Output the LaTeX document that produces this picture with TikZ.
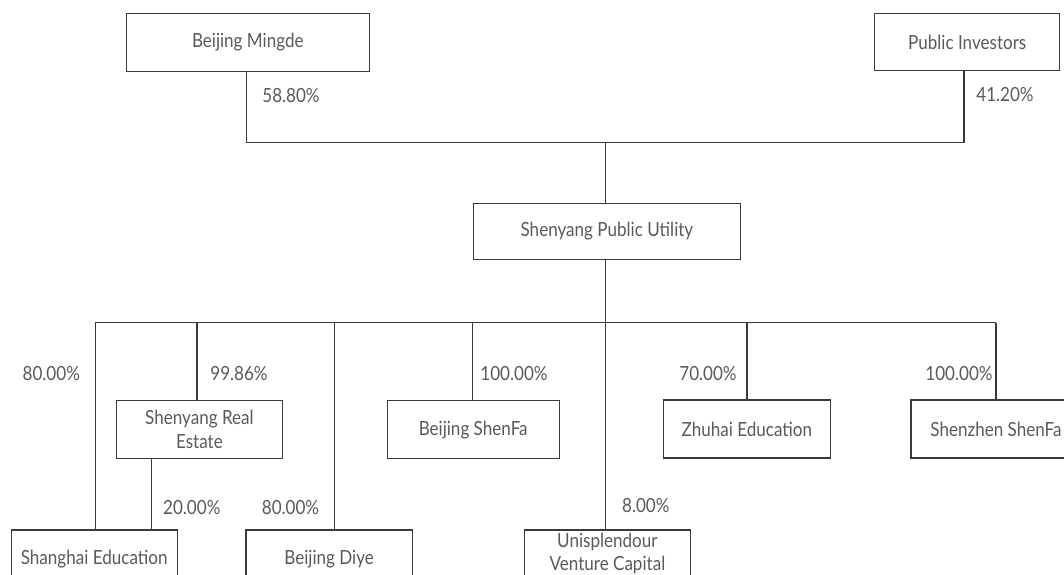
\documentclass[tikz,border=0pt]{standalone}
\usepackage{fontspec}
\setmainfont[FakeStretch=0.875]{Lato}
\begin{document}
\begin{tikzpicture}[x=1pt,y=-1pt,
  box/.style={draw=linec, line width=1.1pt, fill=white, inner sep=0pt, text=txtc, align=center, font=\fontsize{19.5}{24}\selectfont},
  pct/.style={inner sep=0pt, text=txtc, font=\fontsize{19.5}{24}\selectfont},
  conn/.style={draw=linec, line width=1.1pt}]
\definecolor{linec}{HTML}{3A3A3A}
\definecolor{txtc}{HTML}{5A5A5A}
\useasboundingbox (0,0) rectangle (1064,574);
\clip (0,0) rectangle (1064,574);
% boxes
\node[box, minimum width=243.5pt, minimum height=58.2pt] (mingde) at (247.8,42.5) {Beijing Mingde};
\node[box, minimum width=185pt, minimum height=57.5pt] (pub) at (967.2,42) {Public Investors};
\node[box, minimum width=267.7pt, minimum height=56.4pt] (spu) at (606.9,231.5) {Shenyang Public Utility};
\node[box, minimum width=166.7pt, minimum height=58.2pt] (re) at (199.4,429.6) {Shenyang Real\\Estate};
\node[box, minimum width=172.3pt, minimum height=58.2pt] (bjsf) at (473.2,429.6) {Beijing ShenFa};
\node[box, minimum width=166.5pt, minimum height=58pt] (zh) at (746.8,429) {Zhuhai Education};
\node[box, minimum width=170pt, minimum height=58pt] (szsf) at (996,429) {Shenzhen ShenFa};
\node[box, minimum width=166.3pt, minimum height=58pt] (shed) at (94.2,559) {Shanghai Education};
\node[box, minimum width=166.3pt, minimum height=58pt] (diye) at (329.1,559) {Beijing Diye};
\node[box, minimum width=166pt, minimum height=46pt, font=\fontsize{19.5}{23}\selectfont] (uni) at (607.4,553) {Unisplendour\\Venture Capital};
% junctions
\coordinate (jt) at (605.3,142.3);
\coordinate (jb) at (605.3,322.7);
\coordinate (bL) at (95.4,322.7);
\coordinate (bRE) at (197,322.7);
\coordinate (bDY) at (334.4,322.7);
\coordinate (bBS) at (472.8,322.7);
\coordinate (bZH) at (747,322.7);
\coordinate (bR) at (996,322.7);
\coordinate (xm) at (246.6,0);
\coordinate (xp) at (964,0);
\coordinate (xr) at (151.9,0);
% connectors
\draw[conn] (xm |- mingde.south) -- (xm |- jt) -- (xp |- jt) -- (xp |- pub.south);
\draw[conn] (jt) -- (jt |- spu.north);
\draw[conn] (jb |- spu.south) -- (jb |- uni.north);
\draw[conn] (bL) -- (bR);
\draw[conn] (bL) -- (bL |- shed.north);
\draw[conn] (bRE) -- (bRE |- re.north);
\draw[conn] (bDY) -- (bDY |- diye.north);
\draw[conn] (bBS) -- (bBS |- bjsf.north);
\draw[conn] (bZH) -- (bZH |- zh.north);
\draw[conn] (bR) -- (bR |- szsf.north);
\draw[conn] (xr |- re.south) -- (xr |- shed.north);
% labels
\node[pct] (l1) at (291,95.4) {58.80\%};
\node[pct] (l2) at (1005,95) {41.20\%};
\node[pct] (l3) at (51.3,374) {80.00\%};
\node[pct] (l4) at (239,374) {99.86\%};
\node[pct] (l5) at (514,374) {100.00\%};
\node[pct] (l6) at (708,374) {70.00\%};
\node[pct] (l7) at (959,374) {100.00\%};
\node[pct] (l8) at (191.8,508) {20.00\%};
\node[pct] (l9) at (290.5,508) {80.00\%};
\node[pct] (l10) at (645.8,506) {8.00\%};
\end{tikzpicture}
\end{document}
